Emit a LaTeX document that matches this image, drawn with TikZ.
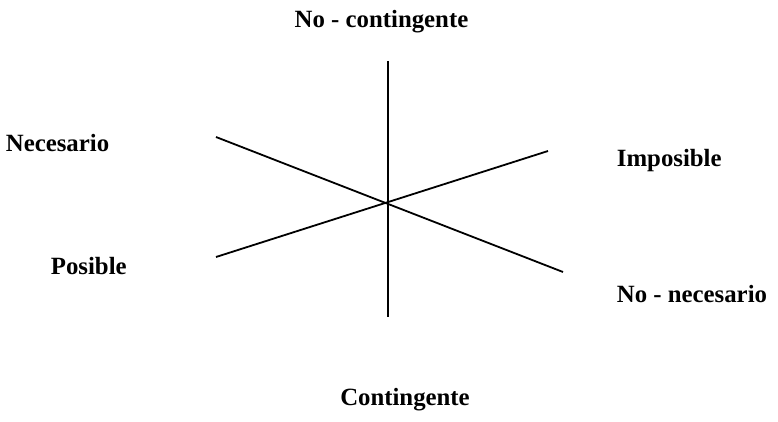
\documentclass[tikz,border=0pt]{standalone}
\usepackage{fontspec}
\setmainfont{Liberation Serif}
\begin{document}
\begin{tikzpicture}[x=1pt,y=-1pt,line width=1.8pt,
    lbl/.style={font=\fontsize{24.8}{29}\selectfont\bfseries,inner sep=0pt}]
      \useasboundingbox (0,0) rectangle (778,422);
      \coordinate (o) at (388,203);
      \coordinate (top) at (388,61);
      \coordinate (bot) at (388,317);
      \coordinate (nw) at (216,137);
      \coordinate (se) at (563,272);
      \coordinate (sw) at (216,257);
      \coordinate (ne) at (548,151);
      \draw (top) -- (bot);
      \draw (nw) -- (se);
      \draw (sw) -- (ne);
      \node[lbl,anchor=base] (nocont) at (381.5,28) {No - contingente};
      \node[lbl,anchor=base west] (nec) at (5,152) {Necesario};
      \node[lbl,anchor=base west] (imp) at (616,167) {Imposible};
      \node[lbl,anchor=base west] (pos) at (50,274) {Posible};
      \node[lbl,anchor=base west] (nonec) at (616,302) {No - necesario};
      \node[lbl,anchor=base] (cont) at (405,405) {Contingente};
\end{tikzpicture}
\end{document}
